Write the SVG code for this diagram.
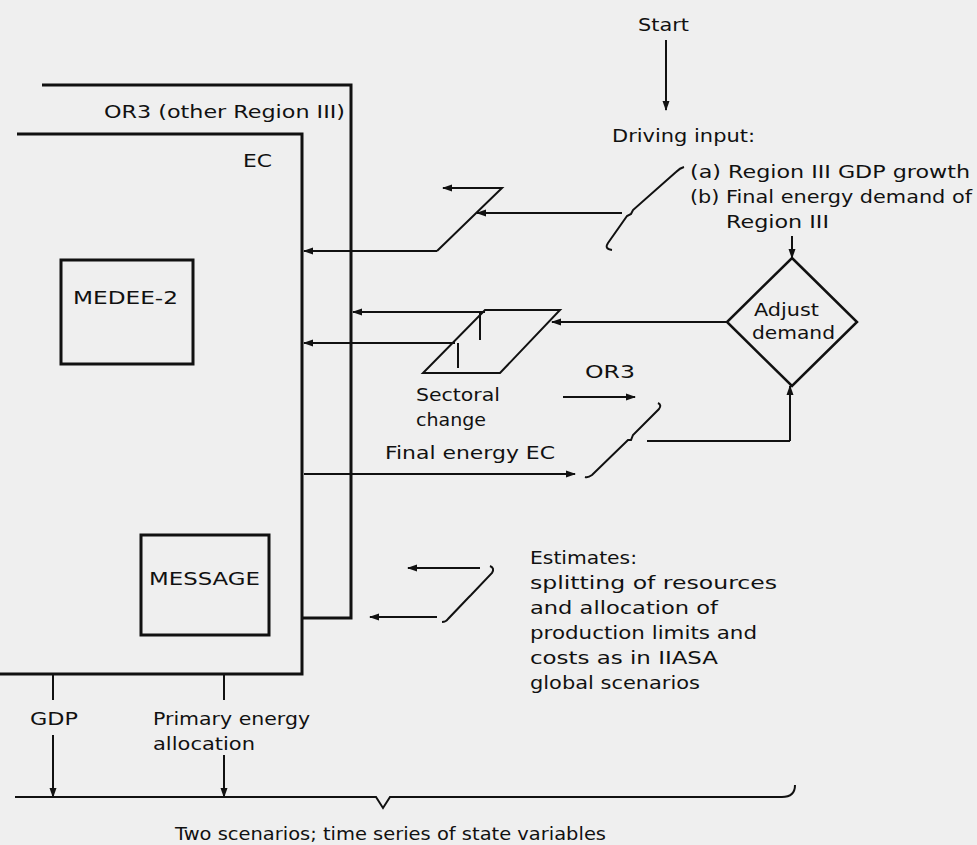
<svg xmlns="http://www.w3.org/2000/svg" width="977" height="845" viewBox="0 0 977 845">
<defs>
<marker id="ah" viewBox="0 0 10 10" refX="9" refY="5" markerWidth="10" markerHeight="10" markerUnits="userSpaceOnUse" orient="auto">
<path d="M0,1.5 L10,5 L0,8.5 Z" fill="#111"/>
</marker>
</defs>
<style>
text{font-family:"DejaVu Sans","Liberation Sans",Arial,sans-serif;font-size:18px;fill:#111}
.frame{fill:none;stroke:#111;stroke-width:3}
.box{fill:none;stroke:#111;stroke-width:3}
.ln{fill:none;stroke:#111;stroke-width:2}
.arr{fill:none;stroke:#111;stroke-width:2;marker-end:url(#ah)}
</style>
<rect x="0" y="0" width="977" height="845" fill="#efefef"/>

<g id="or3-frame">
<path class="frame" d="M42,85 H351 V618 H302"/>
<text x="104" y="118" textLength="241" lengthAdjust="spacingAndGlyphs">OR3 (other Region III)</text>
</g>
<g id="ec-frame">
<path class="frame" d="M17,134 H302 V674 H0"/>
<text x="243" y="167" textLength="29" lengthAdjust="spacingAndGlyphs">EC</text>
</g>
<g id="medee2">
<rect class="box" x="61" y="260" width="132" height="104"/>
<text x="73" y="304" textLength="105" lengthAdjust="spacingAndGlyphs">MEDEE-2</text>
</g>
<g id="message">
<rect class="box" x="141" y="535" width="128" height="100"/>
<text x="149" y="585" textLength="111" lengthAdjust="spacingAndGlyphs">MESSAGE</text>
</g>
<g id="start">
<text x="638" y="31" textLength="51" lengthAdjust="spacingAndGlyphs">Start</text>
</g>
<g id="driving-input">
<text x="612" y="142" textLength="143" lengthAdjust="spacingAndGlyphs">Driving input:</text>
<text x="690" y="178" textLength="280" lengthAdjust="spacingAndGlyphs">(a) Region III GDP growth</text>
<text x="690" y="203" textLength="282" lengthAdjust="spacingAndGlyphs">(b) Final energy demand of</text>
<text x="726" y="228" textLength="103" lengthAdjust="spacingAndGlyphs">Region III</text>
</g>
<g id="adjust-demand">
<path class="box" d="M792,258 L857,322 L792,386 L727,322 Z" style="stroke-width:2.5"/>
<text x="754" y="316" textLength="65" lengthAdjust="spacingAndGlyphs">Adjust</text>
<text x="752" y="339" textLength="83" lengthAdjust="spacingAndGlyphs">demand</text>
</g>
<g id="sectoral-change">
<path class="ln" d="M485,310 H560 L500,373 H423 Z"/>
<path class="ln" d="M480,313 V340 M458,343 V368"/>
<text x="416" y="401" textLength="84" lengthAdjust="spacingAndGlyphs">Sectoral</text>
<text x="416" y="426" textLength="70" lengthAdjust="spacingAndGlyphs">change</text>
</g>
<g id="labels">
<text x="585" y="378" textLength="50" lengthAdjust="spacingAndGlyphs">OR3</text>
<text x="385" y="459" textLength="170" lengthAdjust="spacingAndGlyphs">Final energy EC</text>
<text x="530" y="564" textLength="107" lengthAdjust="spacingAndGlyphs">Estimates:</text>
<text x="530" y="589" textLength="247" lengthAdjust="spacingAndGlyphs">splitting of resources</text>
<text x="530" y="614" textLength="188" lengthAdjust="spacingAndGlyphs">and allocation of</text>
<text x="530" y="639" textLength="227" lengthAdjust="spacingAndGlyphs">production limits and</text>
<text x="530" y="664" textLength="188" lengthAdjust="spacingAndGlyphs">costs as in IIASA</text>
<text x="530" y="689" textLength="170" lengthAdjust="spacingAndGlyphs">global scenarios</text>
<text x="30" y="725" textLength="48" lengthAdjust="spacingAndGlyphs">GDP</text>
<text x="153" y="725" textLength="157" lengthAdjust="spacingAndGlyphs">Primary energy</text>
<text x="153" y="750" textLength="102" lengthAdjust="spacingAndGlyphs">allocation</text>
<text x="175" y="840" textLength="431" lengthAdjust="spacingAndGlyphs">Two scenarios; time series of state variables</text>
</g>
<g id="connectors">
<path class="arr" d="M666,40 V110"/>
<path class="ln" d="M684,167 Q680,168 676,172 L633,210 L631,214 L627,216 L608,243 Q604,249 612,250"/>
<path class="arr" d="M622,213 H477"/>
<path class="ln" d="M437,251 L502,188 H455"/>
<path class="arr" d="M470,188 H443"/>
<path class="arr" d="M437,251 H304"/>
<path class="arr" d="M727,322 H552"/>
<path class="arr" d="M485,312 H353"/>
<path class="arr" d="M455,343 H304"/>
<path class="arr" d="M792,236 V258"/>
<path class="arr" d="M563,397 H635"/>
<path class="ln" d="M658,403 Q662,405 659,409 L633,435 L631,440 L628,440 L592,475 Q588,478 585,477"/>
<path class="ln" d="M647,441 H790"/>
<path class="arr" d="M790,441 V386"/>
<path class="arr" d="M304,474 H575"/>
<path class="arr" d="M480,568 H408"/>
<path class="ln" d="M490,566 Q495,568 492,573 L471,595 L468,598 L448,619 Q446,622 442,622"/>
<path class="arr" d="M437,617 H370"/>
<path class="ln" d="M53,674 V700"/>
<path class="arr" d="M53,735 V797"/>
<path class="ln" d="M224,674 V700"/>
<path class="arr" d="M224,755 V797"/>
<path class="ln" d="M15,797 H376 L383,808 L390,797 H782 Q795,797 795,785"/>
</g>
</svg>
